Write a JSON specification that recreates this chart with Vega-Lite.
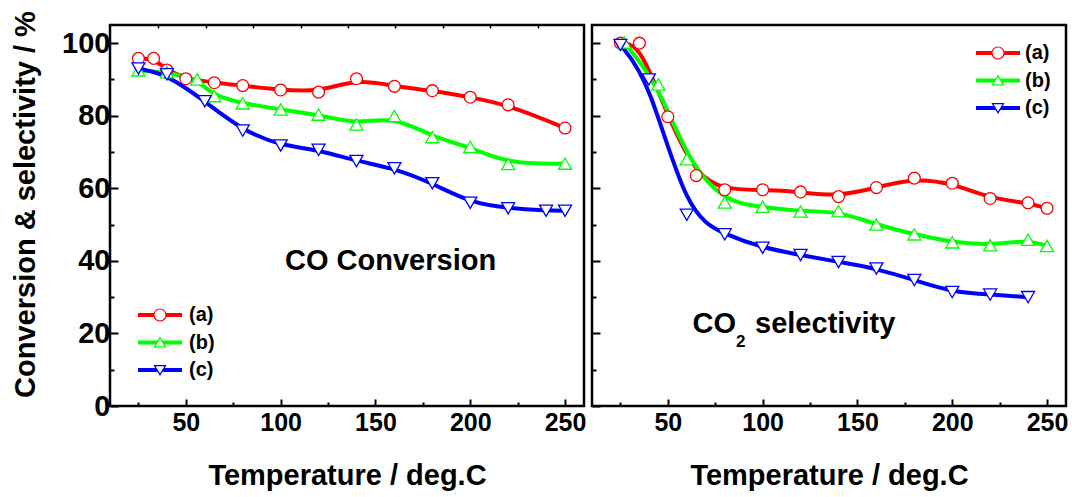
{
  "$schema": "https://vega.github.io/schema/vega-lite/v6.json",
  "padding": {"left": 10, "top": 9, "right": 5, "bottom": 0},
  "config": {
    "view": {"stroke": "black", "strokeWidth": 2.5},
    "font": "Liberation Sans",
    "axis": {"grid": false, "domain": false, "tickColor": "black", "labelColor": "black", "titleColor": "black", "labelFont": "Liberation Sans", "titleFont": "Liberation Sans", "labelFontWeight": "bold", "titleFontWeight": "bold"}
  },
  "datasets": {
    "conv": [
      {"T": 25, "value": 95.8, "series": "(a)"}, {"T": 33, "value": 95.8, "series": "(a)"}, {"T": 40, "value": 92.6, "series": "(a)"}, {"T": 50, "value": 90.2, "series": "(a)"}, {"T": 65, "value": 89.1, "series": "(a)"}, {"T": 80, "value": 88.3, "series": "(a)"}, {"T": 100, "value": 87.1, "series": "(a)"}, {"T": 120, "value": 86.5, "series": "(a)"}, {"T": 140, "value": 90.2, "series": "(a)"}, {"T": 160, "value": 88.1, "series": "(a)"}, {"T": 180, "value": 86.9, "series": "(a)"}, {"T": 200, "value": 85.1, "series": "(a)"}, {"T": 220, "value": 83.0, "series": "(a)"}, {"T": 250, "value": 76.6, "series": "(a)"},
      {"T": 25, "value": 92.5, "series": "(b)"}, {"T": 40, "value": 92.0, "series": "(b)"}, {"T": 56, "value": 90.0, "series": "(b)"}, {"T": 65, "value": 85.4, "series": "(b)"}, {"T": 80, "value": 83.4, "series": "(b)"}, {"T": 100, "value": 81.7, "series": "(b)"}, {"T": 120, "value": 80.3, "series": "(b)"}, {"T": 140, "value": 77.6, "series": "(b)"}, {"T": 160, "value": 79.9, "series": "(b)"}, {"T": 180, "value": 74.1, "series": "(b)"}, {"T": 200, "value": 71.4, "series": "(b)"}, {"T": 220, "value": 66.7, "series": "(b)"}, {"T": 250, "value": 66.8, "series": "(b)"},
      {"T": 25, "value": 93.0, "series": "(c)"}, {"T": 40, "value": 91.4, "series": "(c)"}, {"T": 60, "value": 84.0, "series": "(c)"}, {"T": 80, "value": 75.9, "series": "(c)"}, {"T": 100, "value": 71.8, "series": "(c)"}, {"T": 120, "value": 70.6, "series": "(c)"}, {"T": 140, "value": 67.5, "series": "(c)"}, {"T": 160, "value": 65.5, "series": "(c)"}, {"T": 180, "value": 61.4, "series": "(c)"}, {"T": 200, "value": 56.0, "series": "(c)"}, {"T": 220, "value": 54.5, "series": "(c)"}, {"T": 240, "value": 53.8, "series": "(c)"}, {"T": 250, "value": 53.8, "series": "(c)"}
    ],
    "sel": [
      {"T": 25, "value": 100.0, "series": "(a)"}, {"T": 35, "value": 100.0, "series": "(a)"}, {"T": 50, "value": 79.7, "series": "(a)"}, {"T": 65, "value": 63.5, "series": "(a)"}, {"T": 80, "value": 59.6, "series": "(a)"}, {"T": 100, "value": 59.6, "series": "(a)"}, {"T": 120, "value": 59.0, "series": "(a)"}, {"T": 140, "value": 57.7, "series": "(a)"}, {"T": 160, "value": 60.2, "series": "(a)"}, {"T": 180, "value": 62.8, "series": "(a)"}, {"T": 200, "value": 61.4, "series": "(a)"}, {"T": 220, "value": 57.2, "series": "(a)"}, {"T": 240, "value": 56.0, "series": "(a)"}, {"T": 250, "value": 54.5, "series": "(a)"},
      {"T": 27, "value": 100.2, "series": "(b)"}, {"T": 45, "value": 88.6, "series": "(b)"}, {"T": 60, "value": 68.0, "series": "(b)"}, {"T": 80, "value": 56.1, "series": "(b)"}, {"T": 100, "value": 54.9, "series": "(b)"}, {"T": 120, "value": 53.6, "series": "(b)"}, {"T": 140, "value": 53.7, "series": "(b)"}, {"T": 160, "value": 50.0, "series": "(b)"}, {"T": 180, "value": 47.3, "series": "(b)"}, {"T": 200, "value": 45.1, "series": "(b)"}, {"T": 220, "value": 44.3, "series": "(b)"}, {"T": 240, "value": 45.8, "series": "(b)"}, {"T": 250, "value": 44.1, "series": "(b)"},
      {"T": 25, "value": 99.5, "series": "(c)"}, {"T": 40, "value": 90.0, "series": "(c)"}, {"T": 60, "value": 52.7, "series": "(c)"}, {"T": 80, "value": 47.3, "series": "(c)"}, {"T": 100, "value": 43.6, "series": "(c)"}, {"T": 120, "value": 41.6, "series": "(c)"}, {"T": 140, "value": 39.7, "series": "(c)"}, {"T": 160, "value": 37.9, "series": "(c)"}, {"T": 180, "value": 34.7, "series": "(c)"}, {"T": 200, "value": 31.4, "series": "(c)"}, {"T": 220, "value": 30.7, "series": "(c)"}, {"T": 240, "value": 30.0, "series": "(c)"}
    ]
  },
  "spacing": 1,
  "resolve": {"legend": {"color": "independent", "shape": "independent"}},
  "hconcat": [
    {
      "width": 474, "height": 381,
      "data": {"name": "conv"},
      "resolve": {"axis": {"x": "independent", "y": "independent"}},
      "layer": [
        {
          "mark": {"type": "line", "interpolate": "basis", "strokeWidth": 4},
          "encoding": {
            "x": {"field": "T", "type": "quantitative", "scale": {"domain": [10, 260], "nice": false, "zero": false},
                  "axis": {"orient": "bottom", "values": [50, 100, 150, 200, 250], "tickSize": -7, "tickWidth": 2, "labelFontSize": 25, "labelPadding": 11, "title": "Temperature / deg.C", "titleFontSize": 29, "titlePadding": 26}},
            "y": {"field": "value", "type": "quantitative", "scale": {"domain": [0, 105], "nice": false, "zero": false},
                  "axis": {"orient": "left", "values": [0, 20, 40, 60, 80, 100], "tickSize": -8, "tickWidth": 2, "labelFontSize": 29, "labelPadding": 8, "title": "Conversion & selectivity / %", "titleFontSize": 29, "titlePadding": 21, "titleY": 179}},
            "stroke": {"field": "series", "type": "nominal", "scale": {"domain": ["(a)", "(b)", "(c)"], "range": ["#FF0000", "#00FF00", "#0000FF"]}, "legend": null}
          }
        },
        {
          "transform": [{"filter": {"field": "series", "equal": "(a)"}}],
          "mark": {"type": "point", "shape": "circle", "size": 140, "filled": true, "fill": "white", "strokeWidth": 1.3, "opacity": 1},
          "encoding": {
            "x": {"field": "T", "type": "quantitative", "axis": {"orient": "bottom", "values": [25, 75, 125, 175, 225], "tickSize": -4, "tickWidth": 2, "labels": false, "title": null}},
            "y": {"field": "value", "type": "quantitative", "axis": {"orient": "left", "values": [10, 30, 50, 70, 90], "tickSize": -4, "tickWidth": 2, "labels": false, "title": null}},
            "stroke": {"field": "series", "type": "nominal", "legend": null}
          }
        },
        {
          "transform": [{"filter": {"field": "series", "equal": "(b)"}}],
          "mark": {"type": "point", "shape": "triangle-up", "size": 170, "filled": true, "fill": "white", "strokeWidth": 1.3, "opacity": 1},
          "encoding": {
            "x": {"field": "T", "type": "quantitative", "axis": null},
            "y": {"field": "value", "type": "quantitative", "axis": null},
            "stroke": {"field": "series", "type": "nominal", "legend": null}
          }
        },
        {
          "transform": [{"filter": {"field": "series", "equal": "(c)"}}],
          "mark": {"type": "point", "shape": "triangle-down", "size": 170, "filled": true, "fill": "white", "strokeWidth": 1.3, "opacity": 1},
          "encoding": {
            "x": {"field": "T", "type": "quantitative", "axis": null},
            "y": {"field": "value", "type": "quantitative", "axis": null},
            "stroke": {"field": "series", "type": "nominal", "legend": null}
          }
        },
        {
          "transform": [{"filter": "datum.T < 0"}],
          "mark": {"type": "point", "filled": true, "opacity": 1},
          "encoding": {
            "x": {"field": "T", "type": "quantitative", "axis": null},
            "y": {"field": "value", "type": "quantitative", "axis": null},
            "color": {"field": "series", "type": "nominal", "scale": {"domain": ["(a)", "(b)", "(c)"], "range": ["#FF0000", "#00FF00", "#0000FF"]},
                      "legend": {"orient": "none", "legendX": 28, "legendY": 280, "title": null, "labelFontSize": 20, "labelFontWeight": "bold", "labelColor": "black", "labelFont": "Liberation Sans", "symbolSize": 1936, "symbolStrokeWidth": 0, "clipHeight": 20, "rowPadding": 7.5, "labelOffset": 7, "symbolOffset": 0, "padding": 0, "symbolOpacity": 1}},
            "shape": {"field": "series", "type": "nominal",
                      "scale": {"domain": ["(a)", "(b)", "(c)"], "range": [
                        "M-1,-0.09L-0.29,-0.09L-0.29,0.09L-1,0.09Z M0.29,-0.09L1,-0.09L1,0.09L0.29,0.09Z M0.3,0A0.3,0.3 0 1,1 -0.3,0A0.3,0.3 0 1,1 0.3,0Z M0.245,0A0.245,0.245 0 1,0 -0.245,0A0.245,0.245 0 1,0 0.245,0Z",
                        "M-1,-0.09L-0.108,-0.09L-0.216,0.09L-1,0.09Z M0.108,-0.09L1,-0.09L1,0.09L0.216,0.09Z M0,-0.27L0.3,0.23L-0.3,0.23Z M0,-0.163L-0.203,0.175L0.203,0.175Z",
                        "M-1,-0.09L-0.216,-0.09L-0.108,0.09L-1,0.09Z M0.216,-0.09L1,-0.09L1,0.09L0.108,0.09Z M0,0.27L-0.3,-0.23L0.3,-0.23Z M0,0.163L0.203,-0.175L-0.203,-0.175Z"
                      ]},
                      "legend": {"orient": "none", "legendX": 28, "legendY": 280, "title": null, "labelFontSize": 20, "labelFontWeight": "bold", "labelColor": "black", "labelFont": "Liberation Sans", "symbolSize": 1936, "symbolStrokeWidth": 0, "clipHeight": 20, "rowPadding": 7.5, "labelOffset": 7, "symbolOffset": 0, "padding": 0, "symbolOpacity": 1}}
          }
        },
        {
          "data": {"values": [{"label": "CO Conversion"}]},
          "mark": {"type": "text", "font": "Liberation Sans", "fontSize": 29, "fontWeight": "bold", "align": "center", "baseline": "alphabetic", "color": "black"},
          "encoding": {
            "text": {"field": "label"},
            "x": {"datum": 158, "type": "quantitative", "axis": {"orient": "top", "values": [35.5, 60.5, 85.5, 110.5, 135.5, 160.5, 185.5, 210.5, 235.5], "tickSize": -3, "tickWidth": 1.5, "labels": false, "title": null}},
            "y": {"datum": 37.4, "type": "quantitative", "axis": null}
          }
        }
      ]
    },
    {
      "width": 474, "height": 381,
      "data": {"name": "sel"},
      "resolve": {"axis": {"x": "independent", "y": "independent"}},
      "layer": [
        {
          "mark": {"type": "line", "interpolate": "basis", "strokeWidth": 4},
          "encoding": {
            "x": {"field": "T", "type": "quantitative", "scale": {"domain": [10, 260], "nice": false, "zero": false},
                  "axis": {"orient": "bottom", "values": [50, 100, 150, 200, 250], "tickSize": -7, "tickWidth": 2, "labelFontSize": 25, "labelPadding": 11, "title": "Temperature / deg.C", "titleFontSize": 29, "titlePadding": 26}},
            "y": {"field": "value", "type": "quantitative", "scale": {"domain": [0, 105], "nice": false, "zero": false},
                  "axis": {"orient": "left", "values": [0, 20, 40, 60, 80, 100], "tickSize": -8, "tickWidth": 2, "labels": false, "title": null}},
            "stroke": {"field": "series", "type": "nominal", "scale": {"domain": ["(a)", "(b)", "(c)"], "range": ["#FF0000", "#00FF00", "#0000FF"]}, "legend": null}
          }
        },
        {
          "transform": [{"filter": {"field": "series", "equal": "(a)"}}],
          "mark": {"type": "point", "shape": "circle", "size": 140, "filled": true, "fill": "white", "strokeWidth": 1.3, "opacity": 1},
          "encoding": {
            "x": {"field": "T", "type": "quantitative", "axis": {"orient": "bottom", "values": [25, 75, 125, 175, 225], "tickSize": -4, "tickWidth": 2, "labels": false, "title": null}},
            "y": {"field": "value", "type": "quantitative", "axis": {"orient": "left", "values": [10, 30, 50, 70, 90], "tickSize": -4, "tickWidth": 2, "labels": false, "title": null}},
            "stroke": {"field": "series", "type": "nominal", "legend": null}
          }
        },
        {
          "transform": [{"filter": {"field": "series", "equal": "(b)"}}],
          "mark": {"type": "point", "shape": "triangle-up", "size": 170, "filled": true, "fill": "white", "strokeWidth": 1.3, "opacity": 1},
          "encoding": {
            "x": {"field": "T", "type": "quantitative", "axis": null},
            "y": {"field": "value", "type": "quantitative", "axis": null},
            "stroke": {"field": "series", "type": "nominal", "legend": null}
          }
        },
        {
          "transform": [{"filter": {"field": "series", "equal": "(c)"}}],
          "mark": {"type": "point", "shape": "triangle-down", "size": 170, "filled": true, "fill": "white", "strokeWidth": 1.3, "opacity": 1},
          "encoding": {
            "x": {"field": "T", "type": "quantitative", "axis": null},
            "y": {"field": "value", "type": "quantitative", "axis": null},
            "stroke": {"field": "series", "type": "nominal", "legend": null}
          }
        },
        {
          "transform": [{"filter": "datum.T < 0"}],
          "mark": {"type": "point", "filled": true, "opacity": 1},
          "encoding": {
            "x": {"field": "T", "type": "quantitative", "axis": null},
            "y": {"field": "value", "type": "quantitative", "axis": null},
            "color": {"field": "series", "type": "nominal", "scale": {"domain": ["(a)", "(b)", "(c)"], "range": ["#FF0000", "#00FF00", "#0000FF"]},
                      "legend": {"orient": "none", "legendX": 384, "legendY": 18, "title": null, "labelFontSize": 20, "labelFontWeight": "bold", "labelColor": "black", "labelFont": "Liberation Sans", "symbolSize": 1936, "symbolStrokeWidth": 0, "clipHeight": 20, "rowPadding": 7.5, "labelOffset": 5, "symbolOffset": 0, "padding": 0, "symbolOpacity": 1}},
            "shape": {"field": "series", "type": "nominal",
                      "scale": {"domain": ["(a)", "(b)", "(c)"], "range": [
                        "M-1,-0.09L-0.29,-0.09L-0.29,0.09L-1,0.09Z M0.29,-0.09L1,-0.09L1,0.09L0.29,0.09Z M0.3,0A0.3,0.3 0 1,1 -0.3,0A0.3,0.3 0 1,1 0.3,0Z M0.245,0A0.245,0.245 0 1,0 -0.245,0A0.245,0.245 0 1,0 0.245,0Z",
                        "M-1,-0.09L-0.108,-0.09L-0.216,0.09L-1,0.09Z M0.108,-0.09L1,-0.09L1,0.09L0.216,0.09Z M0,-0.27L0.3,0.23L-0.3,0.23Z M0,-0.163L-0.203,0.175L0.203,0.175Z",
                        "M-1,-0.09L-0.216,-0.09L-0.108,0.09L-1,0.09Z M0.216,-0.09L1,-0.09L1,0.09L0.108,0.09Z M0,0.27L-0.3,-0.23L0.3,-0.23Z M0,0.163L0.203,-0.175L-0.203,-0.175Z"
                      ]},
                      "legend": {"orient": "none", "legendX": 384, "legendY": 18, "title": null, "labelFontSize": 20, "labelFontWeight": "bold", "labelColor": "black", "labelFont": "Liberation Sans", "symbolSize": 1936, "symbolStrokeWidth": 0, "clipHeight": 20, "rowPadding": 7.5, "labelOffset": 5, "symbolOffset": 0, "padding": 0, "symbolOpacity": 1}}
          }
        },
        {
          "data": {"values": [{"label": "CO"}]},
          "mark": {"type": "text", "font": "Liberation Sans", "fontSize": 29, "fontWeight": "bold", "align": "left", "baseline": "alphabetic", "color": "black"},
          "encoding": {
            "text": {"field": "label"},
            "x": {"datum": 63, "type": "quantitative", "axis": null},
            "y": {"datum": 20, "type": "quantitative", "axis": null}
          }
        },
        {
          "data": {"values": [{"label": "2"}]},
          "mark": {"type": "text", "font": "Liberation Sans", "fontSize": 17, "fontWeight": "bold", "align": "center", "baseline": "alphabetic", "color": "black"},
          "encoding": {
            "text": {"field": "label"},
            "x": {"datum": 88.5, "type": "quantitative", "axis": null},
            "y": {"datum": 16.3, "type": "quantitative", "axis": null}
          }
        },
        {
          "data": {"values": [{"label": "selectivity"}]},
          "mark": {"type": "text", "font": "Liberation Sans", "fontSize": 29, "fontWeight": "bold", "align": "left", "baseline": "alphabetic", "color": "black"},
          "encoding": {
            "text": {"field": "label"},
            "x": {"datum": 96, "type": "quantitative", "axis": null},
            "y": {"datum": 20, "type": "quantitative", "axis": null}
          }
        }
      ]
    }
  ]
}
